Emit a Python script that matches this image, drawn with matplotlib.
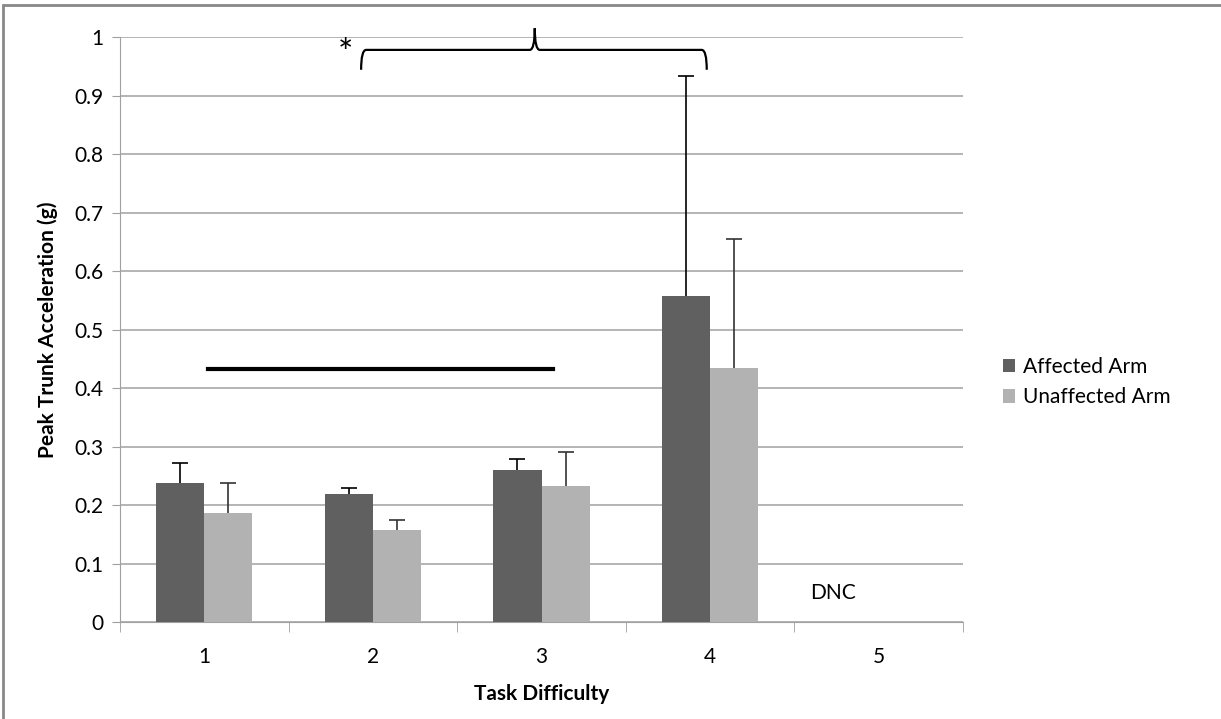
import numpy as np
import matplotlib.pyplot as plt
from matplotlib.patches import Rectangle, PathPatch
from matplotlib.path import Path

plt.rcParams["font.family"] = ["Lato", "DejaVu Sans"]

difficulty = [1, 2, 3, 4, 5]
affected = [0.237, 0.219, 0.259, 0.557, np.nan]
unaffected = [0.186, 0.158, 0.232, 0.434, np.nan]
affected_err = [0.035, 0.010, 0.019, 0.377, np.nan]
unaffected_err = [0.052, 0.017, 0.059, 0.221, np.nan]

fig = plt.figure(figsize=(12.21, 7.19), dpi=100)
ax = fig.add_axes([0.0983, 0.1349, 0.6904, 0.8136])

x = np.array(difficulty, dtype=float)
w = 0.285
ax.bar(x - w / 2, affected, w, color="#606060", label="Affected Arm", zorder=3)
ax.bar(x + w / 2, unaffected, w, color="#b2b2b2", label="Unaffected Arm", zorder=3)
for xs, vals, errs, col in [(x - w / 2, affected, affected_err, "black"),
                            (x + w / 2, unaffected, unaffected_err, "#333333")]:
    eb = ax.errorbar(xs, vals, yerr=[np.zeros(5), errs], fmt="none", ecolor=col,
                     elinewidth=1.2, capsize=6, capthick=1.2, zorder=4)
    eb[1][0].set_visible(False)

ax.set_xlim(0.5, 5.5)
ax.set_ylim(0, 1)
ax.set_yticks(np.arange(0, 1.01, 0.1))
ax.set_yticklabels(["0"] + [f"{v:.1f}" for v in np.arange(0.1, 0.95, 0.1)] + ["1"])
ax.set_xticks(difficulty)
ax.set_xticks(np.arange(0.5, 5.6, 1), minor=True)
ax.tick_params(axis="x", which="major", length=0, labelsize=15, pad=18)
ax.tick_params(axis="x", which="minor", length=7, color="#a0a0a0", direction="out")
ax.tick_params(axis="y", length=6, color="#a0a0a0", labelsize=15, pad=6)
ax.grid(axis="y", color="#a8a8a8", linewidth=1.2, zorder=0)
for s in ["top", "right"]:
    ax.spines[s].set_visible(False)
ax.spines["left"].set_color("#a0a0a0")
ax.spines["bottom"].set_color("#a0a0a0")

ax.set_xlabel("Task Difficulty", fontsize=15, fontweight="bold", labelpad=12)
ax.set_ylabel("Peak Trunk Acceleration (g)", fontsize=15, fontweight="bold", labelpad=12)

# significance line and brace
ax.plot([1.02, 3.07], [0.433, 0.433], color="black", lw=3, zorder=5)
bx0, bx1, bm = 1.93, 3.98, 2.96
yb, ye, yt = 0.978, 0.944, 1.015
r = 0.03
verts = [(bx0, ye), (bx0, yb), (bx0 + r, yb),
         (bm - r, yb), (bm, yb), (bm, yt),
         (bm, yt), (bm, yb), (bm + r, yb),
         (bx1 - r, yb), (bx1, yb), (bx1, ye)]
codes = [Path.MOVETO, Path.CURVE3, Path.CURVE3,
         Path.LINETO, Path.CURVE3, Path.CURVE3,
         Path.MOVETO, Path.CURVE3, Path.CURVE3,
         Path.LINETO, Path.CURVE3, Path.CURVE3]
ax.add_patch(PathPatch(Path(verts, codes), fill=False, lw=1.6, edgecolor="black",
                       clip_on=False, zorder=5))
ax.text(1.84, 0.97, "*", fontsize=26, ha="center", va="center")
ax.text(4.73, 0.05, "DNC", fontsize=15, ha="center", va="center")

ax.legend(loc="center left", bbox_to_anchor=(1.0, 0.41), frameon=False,
          fontsize=15, handlelength=0.6, handleheight=0.6, labelspacing=0.5,
          handletextpad=0.4, borderaxespad=1.5)

fig.patches.append(Rectangle((0.0025, -0.01), 1.2, 1.003, transform=fig.transFigure,
                             fill=False, edgecolor="#888888", lw=2))

fig.savefig("out.png", dpi=100)
